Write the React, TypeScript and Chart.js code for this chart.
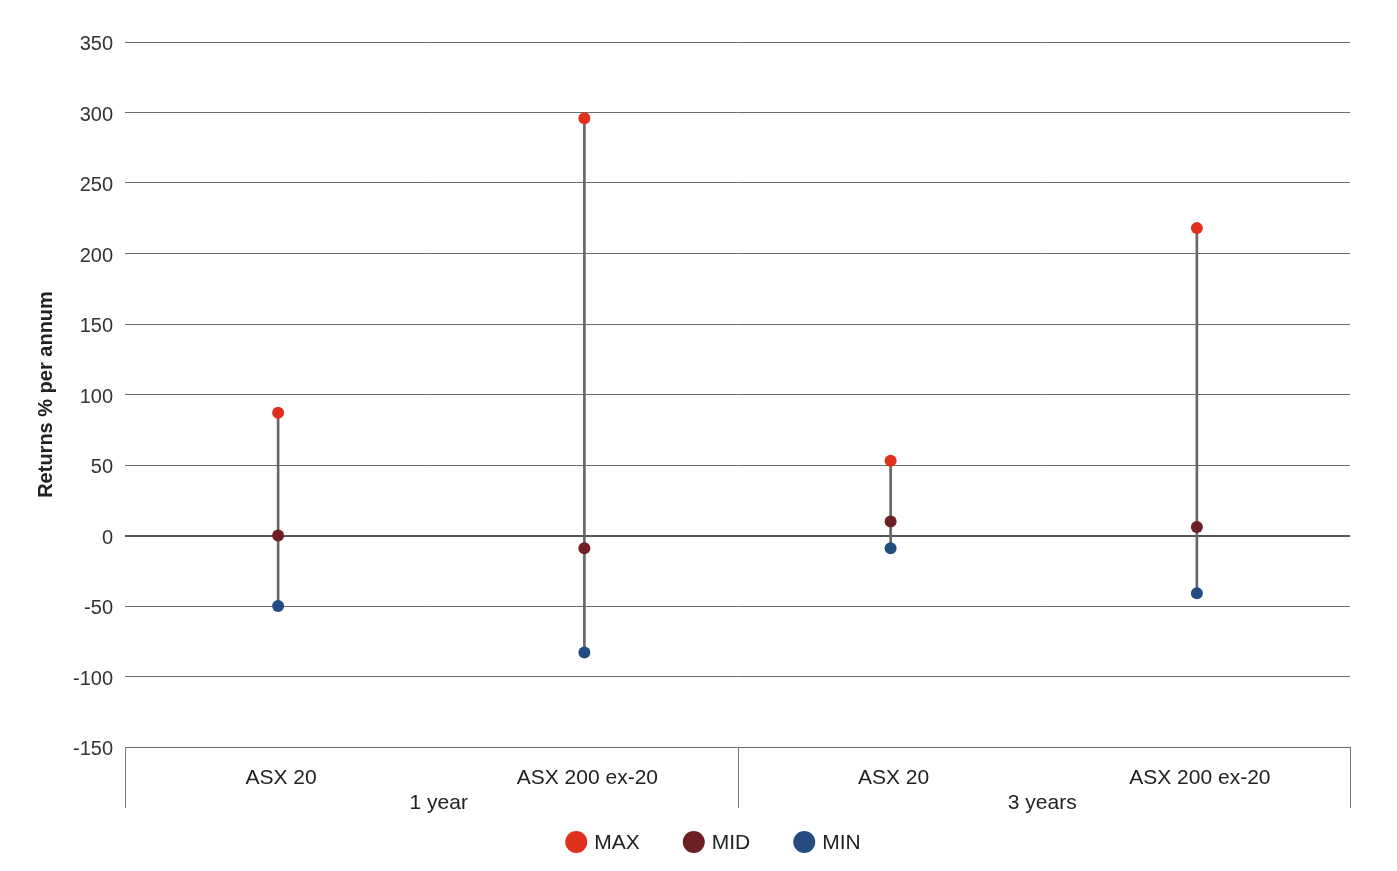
import React, { useEffect, useRef } from "react";
import { Chart, registerables } from "chart.js";

Chart.register(...registerables);

const categories = ["ASX 20", "ASX 200 ex-20", "ASX 20", "ASX 200 ex-20"];
const groupLabels = ["1 year", "3 years"];
const maxValues = [87, 296, 53, 218];
const midValues = [0, -9, 10, 6];
const minValues = [-50, -83, -9, -41];
const yMin = -150;
const yMax = 350;
const yStep = 50;
const yTitle = "Returns % per annum";

const FONT = "'Liberation Sans', Arial, Helvetica, sans-serif";
const COLORS = { max: "#e0301e", mid: "#6e1f23", min: "#244c80", stem: "#666666" };

const xExtras = {
  id: "xExtras",
  afterDraw(chart: any) {
    const { ctx, chartArea } = chart;
    const x = chart.scales.x;
    const bottom = chartArea.bottom;
    ctx.save();
    // dividers
    const mid = (x.getPixelForValue(1) + x.getPixelForValue(2)) / 2;
    ctx.strokeStyle = "#777";
    ctx.lineWidth = 1;
    [chartArea.left, mid, chartArea.right].forEach((px: number) => {
      const p = Math.round(px) + 0.5;
      ctx.beginPath();
      ctx.moveTo(p, bottom);
      ctx.lineTo(p, bottom + 61);
      ctx.stroke();
    });
    // group labels
    ctx.fillStyle = "#222";
    ctx.font = `21px ${FONT}`;
    ctx.textAlign = "center";
    ctx.textBaseline = "middle";
    const c1 = (x.getPixelForValue(0) + x.getPixelForValue(1)) / 2;
    const c2 = (x.getPixelForValue(2) + x.getPixelForValue(3)) / 2;
    ctx.fillText(groupLabels[0], c1 + 7.5, bottom + 56);
    ctx.fillText(groupLabels[1], c2 - 1.5, bottom + 56);

    // legend
    const items = chart.data.datasets.filter((d: any) => d.type === "line");
    ctx.font = `21px ${FONT}`;
    const r = 11;
    const gapText = 7;
    const gapItem = 43;
    const widths = items.map((d: any) => 2 * r + gapText + ctx.measureText(d.label).width);
    const total = widths.reduce((a: number, b: number) => a + b, 0) + gapItem * (items.length - 1);
    let cx = 705 - total / 2;
    const cy = 834;
    ctx.textAlign = "left";
    items.forEach((d: any, i: number) => {
      ctx.fillStyle = d.pointBackgroundColor;
      ctx.beginPath();
      ctx.arc(cx + r, cy, r, 0, Math.PI * 2);
      ctx.fill();
      ctx.fillStyle = "#222";
      ctx.fillText(d.label, cx + 2 * r + gapText, cy + 1);
      cx += widths[i] + gapItem;
    });
    ctx.restore();
  },
};

export default function App() {
  const ref = useRef<HTMLCanvasElement>(null);
  useEffect(() => {
    if (!ref.current) return;
    const stems = categories.map((_, i) => [minValues[i], maxValues[i]]);
    const pointDs = (label: string, data: number[], color: string) => ({
      type: "line" as const,
      label,
      data,
      showLine: false,
      pointRadius: 6,
      pointHoverRadius: 6,
      pointBorderWidth: 0,
      pointBackgroundColor: color,
      borderColor: color,
      backgroundColor: color,
      order: 0,
    });
    const chart = new Chart(ref.current, {
      type: "bar",
      data: {
        labels: categories,
        datasets: [
          {
            type: "bar",
            label: "range",
            data: stems as any,
            backgroundColor: COLORS.stem,
            barThickness: 2,
            order: 10,
          },
          pointDs("MAX", maxValues, COLORS.max),
          pointDs("MID", midValues, COLORS.mid),
          pointDs("MIN", minValues, COLORS.min),
        ] as any,
      },
      options: {
        animation: false,
        responsive: true,
        maintainAspectRatio: false,
        layout: { padding: { top: 34, right: 39, left: 0, bottom: 0 } },
        plugins: { legend: { display: false }, tooltip: { enabled: false } },
        scales: {
          x: {
            offset: true,
            grid: { display: false, drawTicks: false },
            border: { display: false },
            ticks: {
              color: "#222",
              font: { family: FONT, size: 21 },
              padding: 19,
              labelOffset: 3,
              maxRotation: 0,
              autoSkip: false,
            },
            afterFit(scale: any) {
              scale.height = 116;
            },
          },
          y: {
            min: yMin,
            max: yMax,
            border: { display: false },
            grid: {
              drawTicks: false,
              color: (c: any) => (c.tick && c.tick.value === 0 ? "#555" : "#6b6b6b"),
              lineWidth: (c: any) => (c.tick && c.tick.value === 0 ? 2 : 1),
            },
            ticks: {
              stepSize: yStep,
              color: "#333",
              font: { family: FONT, size: 20 },
              padding: 12,
              labelOffset: 2.5,
            },
            title: {
              display: true,
              text: yTitle,
              color: "#222",
              font: { family: FONT, size: 20, weight: "bold" },
              padding: { top: 26, bottom: 0 },
            },
            afterFit(scale: any) {
              scale.width = 117;
            },
          },
        },
      },
      plugins: [xExtras],
    });
    return () => chart.destroy();
  }, []);
  return (
    <div style={{ position: "relative", width: 1381, height: 855 }}>
      <canvas ref={ref} style={{ display: "block" }} />
    </div>
  );
}
